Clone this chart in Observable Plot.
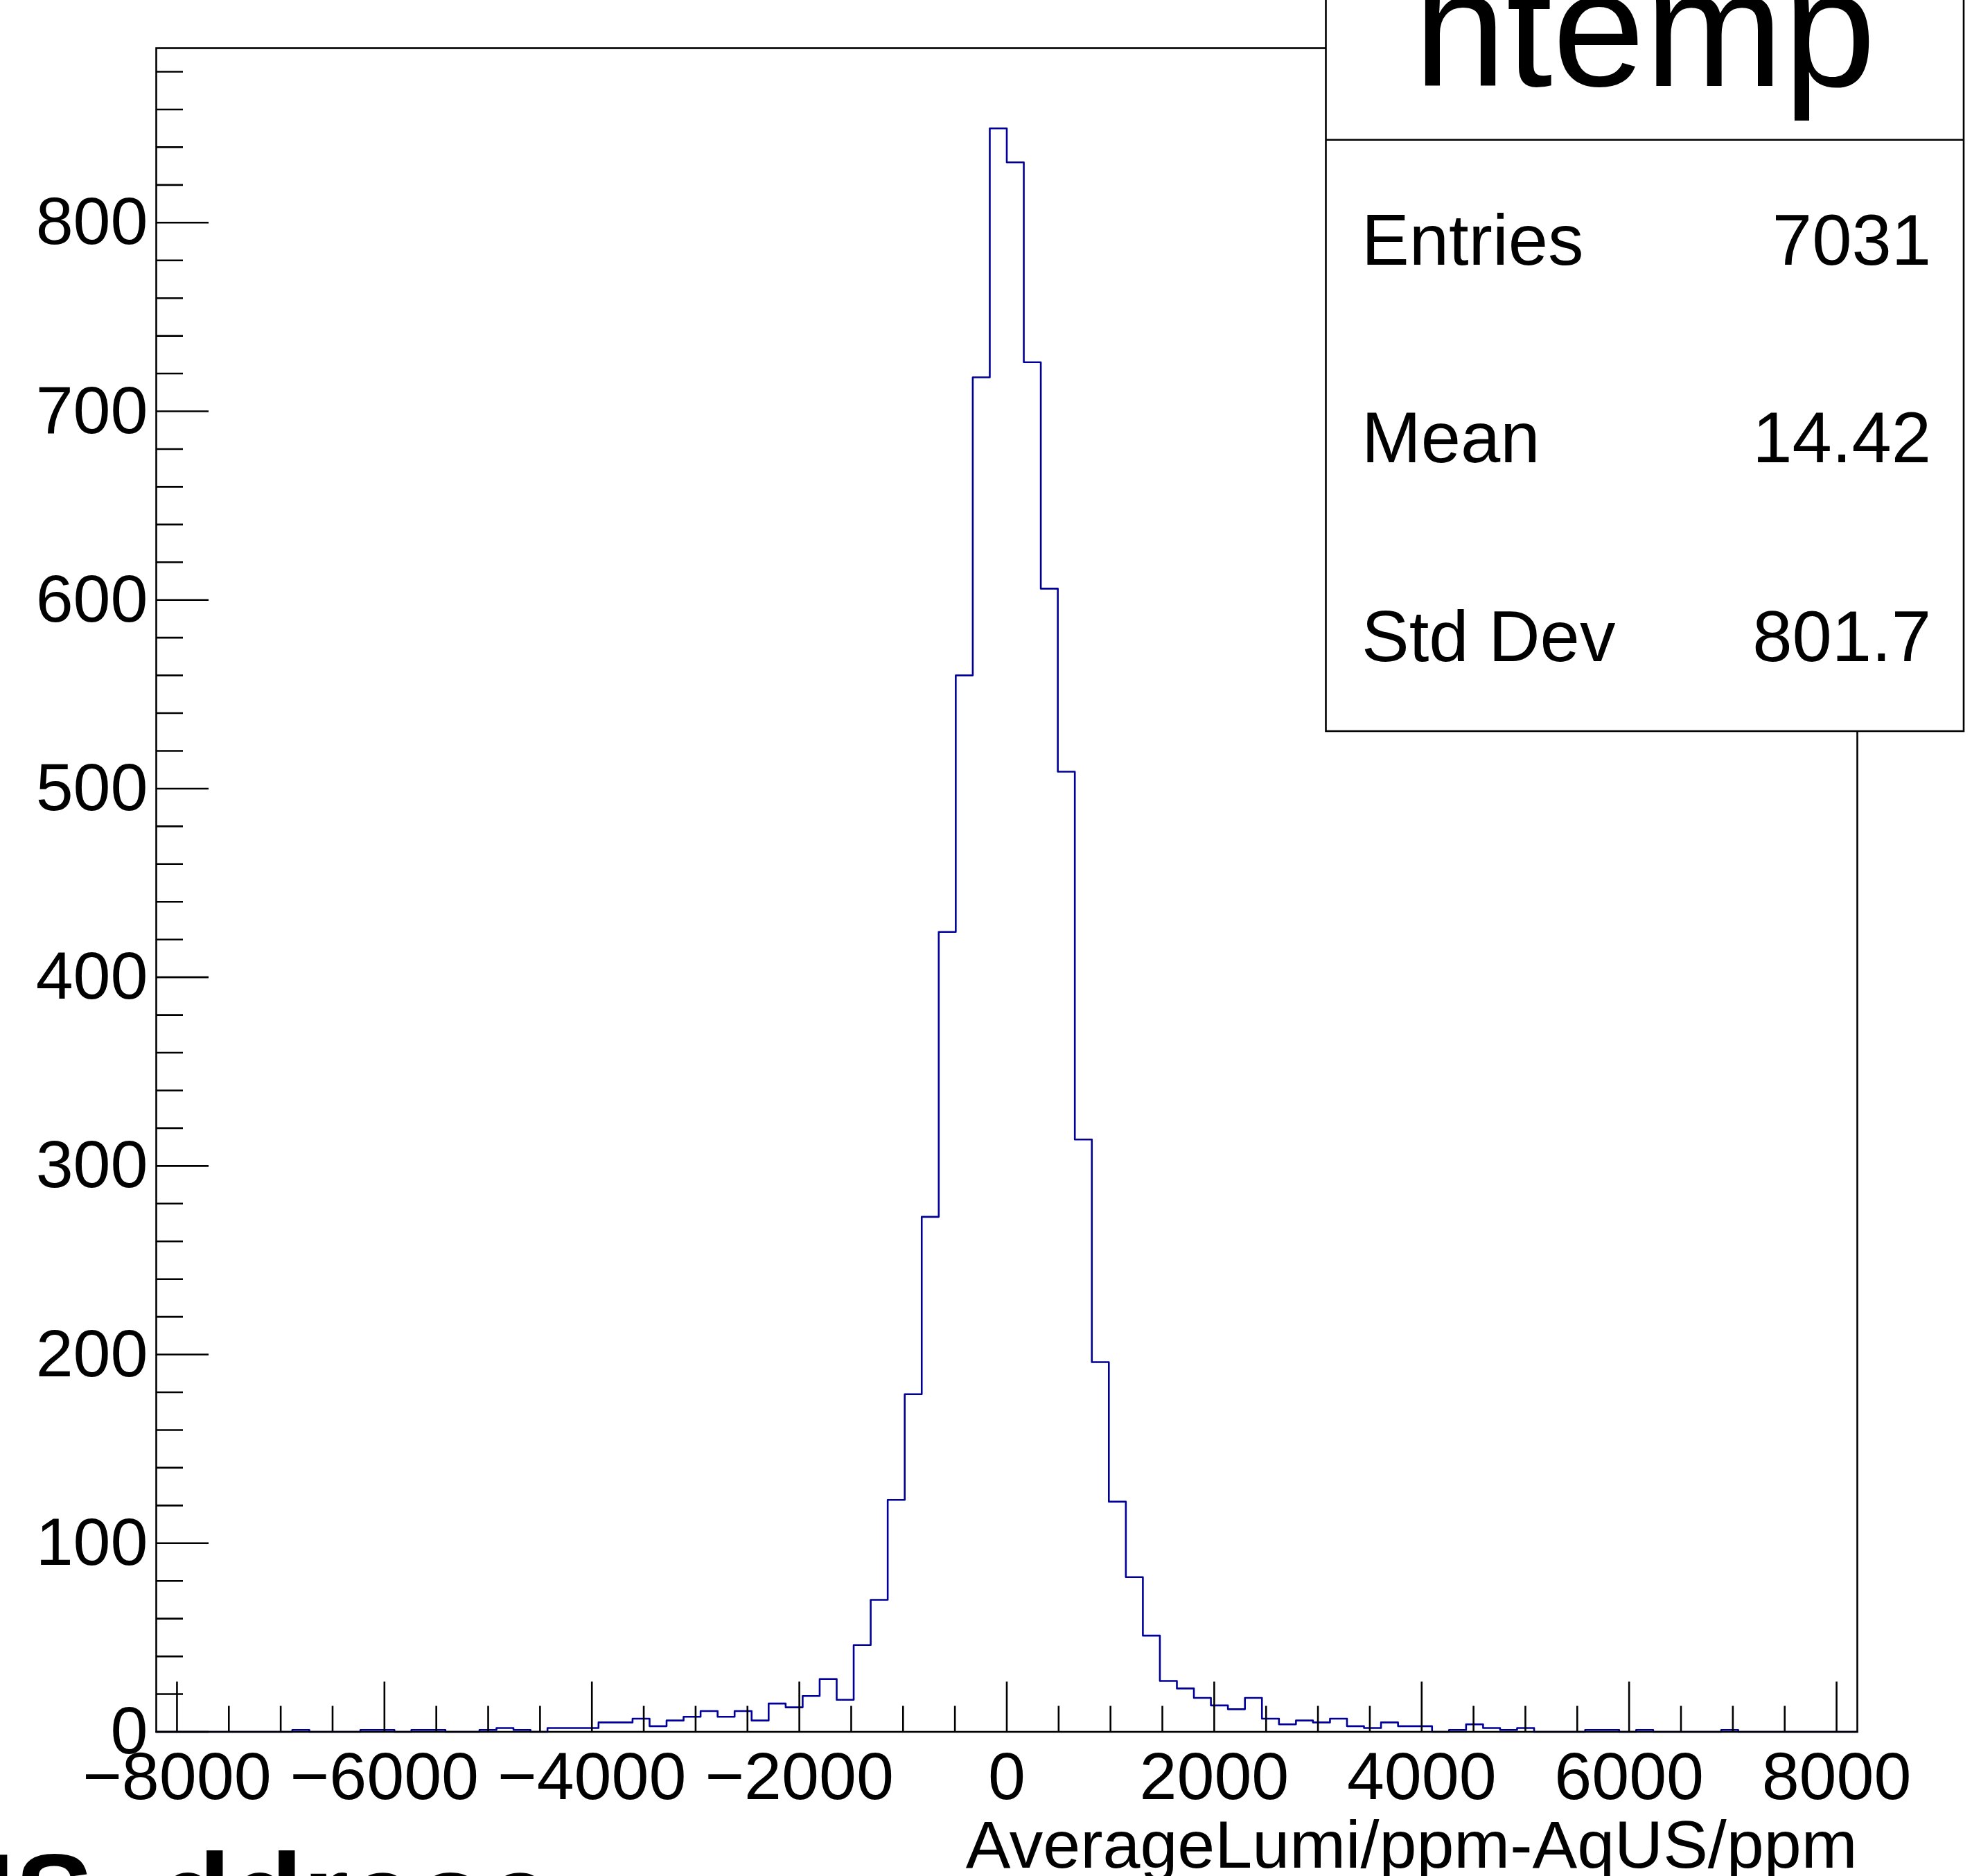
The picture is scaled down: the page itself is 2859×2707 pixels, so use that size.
<!DOCTYPE html>
<html>
<head>
<meta charset="utf-8">
<script src="https://cdn.jsdelivr.net/npm/d3@7"></script>
<script src="https://cdn.jsdelivr.net/npm/@observablehq/plot@0.6"></script>
<style>
  html, body { margin: 0; padding: 0; background: #ffffff; overflow: hidden; }
  #chart svg { display: block; }
</style>
</head>
<body>
<div id="chart"></div>
<script>
const binLow = -8200;          // lower edge of first bin
const binWidth = 164;          // 100 bins from -8200 to 8200
const counts = [
  0, 0, 0, 0, 0, 0, 0, 0, 1, 0,
  0, 0, 1, 1, 0, 1, 1, 0, 0, 1,
  2, 1, 0, 2, 2, 2, 5, 5, 7, 3,
  6, 8, 11, 8, 11, 6, 15, 13, 19, 28,
  17, 46, 70, 123, 179, 273, 424, 560, 718, 850,
  832, 726, 606, 509, 314, 196, 122, 82, 51, 27,
  23, 18, 14, 12, 18, 7, 4, 6, 5, 7,
  3, 2, 5, 3, 3, 0, 1, 4, 2, 1,
  2, 0, 0, 0, 1, 1, 0, 1, 0, 0,
  0, 0, 1, 0, 0, 0, 0, 0, 0, 0
];
const xTickValues = [-8000, -6000, -4000, -2000, 0, 2000, 4000, 6000, 8000];
const xTickLabels = ["\u22128000", "\u22126000", "\u22124000", "\u22122000", "0", "2000", "4000", "6000", "8000"];
const yTickValues = [0, 100, 200, 300, 400, 500, 600, 700, 800];
const yTickLabels = ["0", "100", "200", "300", "400", "500", "600", "700", "800"];
const xTitle = "AverageLumi/ppm-AqUS/ppm";
const histName = "htemp";
const statNames = ["Entries", "Mean", "Std Dev"];
const statValues = ["7031", "14.42", "801.7"];
const cutText = "IS\u00a0\u00a0ddreoe";

// ---- derived table for the step outline ----
const steps = counts.map((c, i) => ({x: binLow + i * binWidth, y: c}));
steps.push({x: binLow + counts.length * binWidth, y: counts[counts.length - 1]});
const yMax = 850 * 1.05;

const W = 2859, H = 2707;
const mL = 225, mR = 179, mT = 69, mB = 208.5;
const plotW = W - mL - mR, plotH = H - mT - mB;

const xMinor = d3.range(-8000, 8001, 500).filter(v => v % 2000 !== 0);
const yMinor = d3.range(0, yMax, 20).filter(v => v % 100 !== 0);

const chart = Plot.plot({
  width: W,
  height: H,
  marginLeft: mL,
  marginRight: mR,
  marginTop: mT,
  marginBottom: mB,
  style: {fontFamily: "'Liberation Sans', Arial, Helvetica, sans-serif", background: "white", overflow: "hidden", color: "black"},
  x: {domain: [binLow, binLow + counts.length * binWidth], axis: null},
  y: {domain: [0, yMax], axis: null},
  marks: [
    Plot.line(steps, {x: "x", y: "y", curve: "step-after", stroke: "#000099", strokeWidth: 2.6}),
    Plot.frame({stroke: "black", strokeWidth: 2.6}),
    Plot.tickY(yMinor, {y: d => d, stroke: "black", strokeWidth: 2.6, insetRight: plotW - 39}),
    Plot.tickY(yTickValues, {y: d => d, stroke: "black", strokeWidth: 2.6, insetRight: plotW - 76}),
    Plot.tickX(xMinor, {x: d => d, stroke: "black", strokeWidth: 2.6, insetTop: plotH - 37}),
    Plot.tickX(xTickValues, {x: d => d, stroke: "black", strokeWidth: 2.6, insetTop: plotH - 72}),
    Plot.text(yTickValues, {y: d => d, text: (d, i) => yTickLabels[i], frameAnchor: "left", textAnchor: "end", lineAnchor: "middle", dx: -12, fontSize: 97, fill: "black"}),
    Plot.text(xTickValues, {x: d => d, text: (d, i) => xTickLabels[i], frameAnchor: "bottom", lineAnchor: "top", dy: 28, fontSize: 97, fill: "black"}),
    Plot.text([xTitle], {text: d => d, frameAnchor: "bottom-right", textAnchor: "end", lineAnchor: "top", dy: 127, fontSize: 97, fill: "black"}),
    Plot.text([cutText], {text: d => d, frameAnchor: "bottom-left", textAnchor: "start", lineAnchor: "top", dx: -251, dy: 174, fontSize: 170, fontWeight: "bold", fill: "black"})
  ]
});
document.getElementById("chart").appendChild(chart);

// ---- statistics box (ROOT style) ----
const svg = d3.select(chart);
const box = svg.append("g")
  .attr("font-family", "'Liberation Sans', Arial, Helvetica, sans-serif")
  .attr("text-anchor", "start");
const bx0 = 1913.5, bx1 = 2834, by1 = 1055, divY = 201.8;
box.append("rect")
  .attr("x", bx0).attr("y", -10).attr("width", bx1 - bx0).attr("height", by1 + 10)
  .attr("fill", "white").attr("stroke", "black").attr("stroke-width", 2.6);
box.append("line")
  .attr("x1", bx0).attr("x2", bx1).attr("y1", divY).attr("y2", divY)
  .attr("stroke", "black").attr("stroke-width", 2.6);
box.append("text")
  .attr("x", (bx0 + bx1) / 2).attr("y", 124).attr("text-anchor", "middle")
  .attr("font-size", 240).attr("fill", "black").text(histName);
const rowY = [382, 667, 954];
statNames.forEach((name, i) => {
  box.append("text").attr("x", 1965).attr("y", rowY[i]).attr("text-anchor", "start")
    .attr("font-size", 103).attr("fill", "black").text(name);
  box.append("text").attr("x", 2787).attr("y", rowY[i]).attr("text-anchor", "end")
    .attr("font-size", 103).attr("fill", "black").text(statValues[i]);
});
</script>
</body>
</html>
